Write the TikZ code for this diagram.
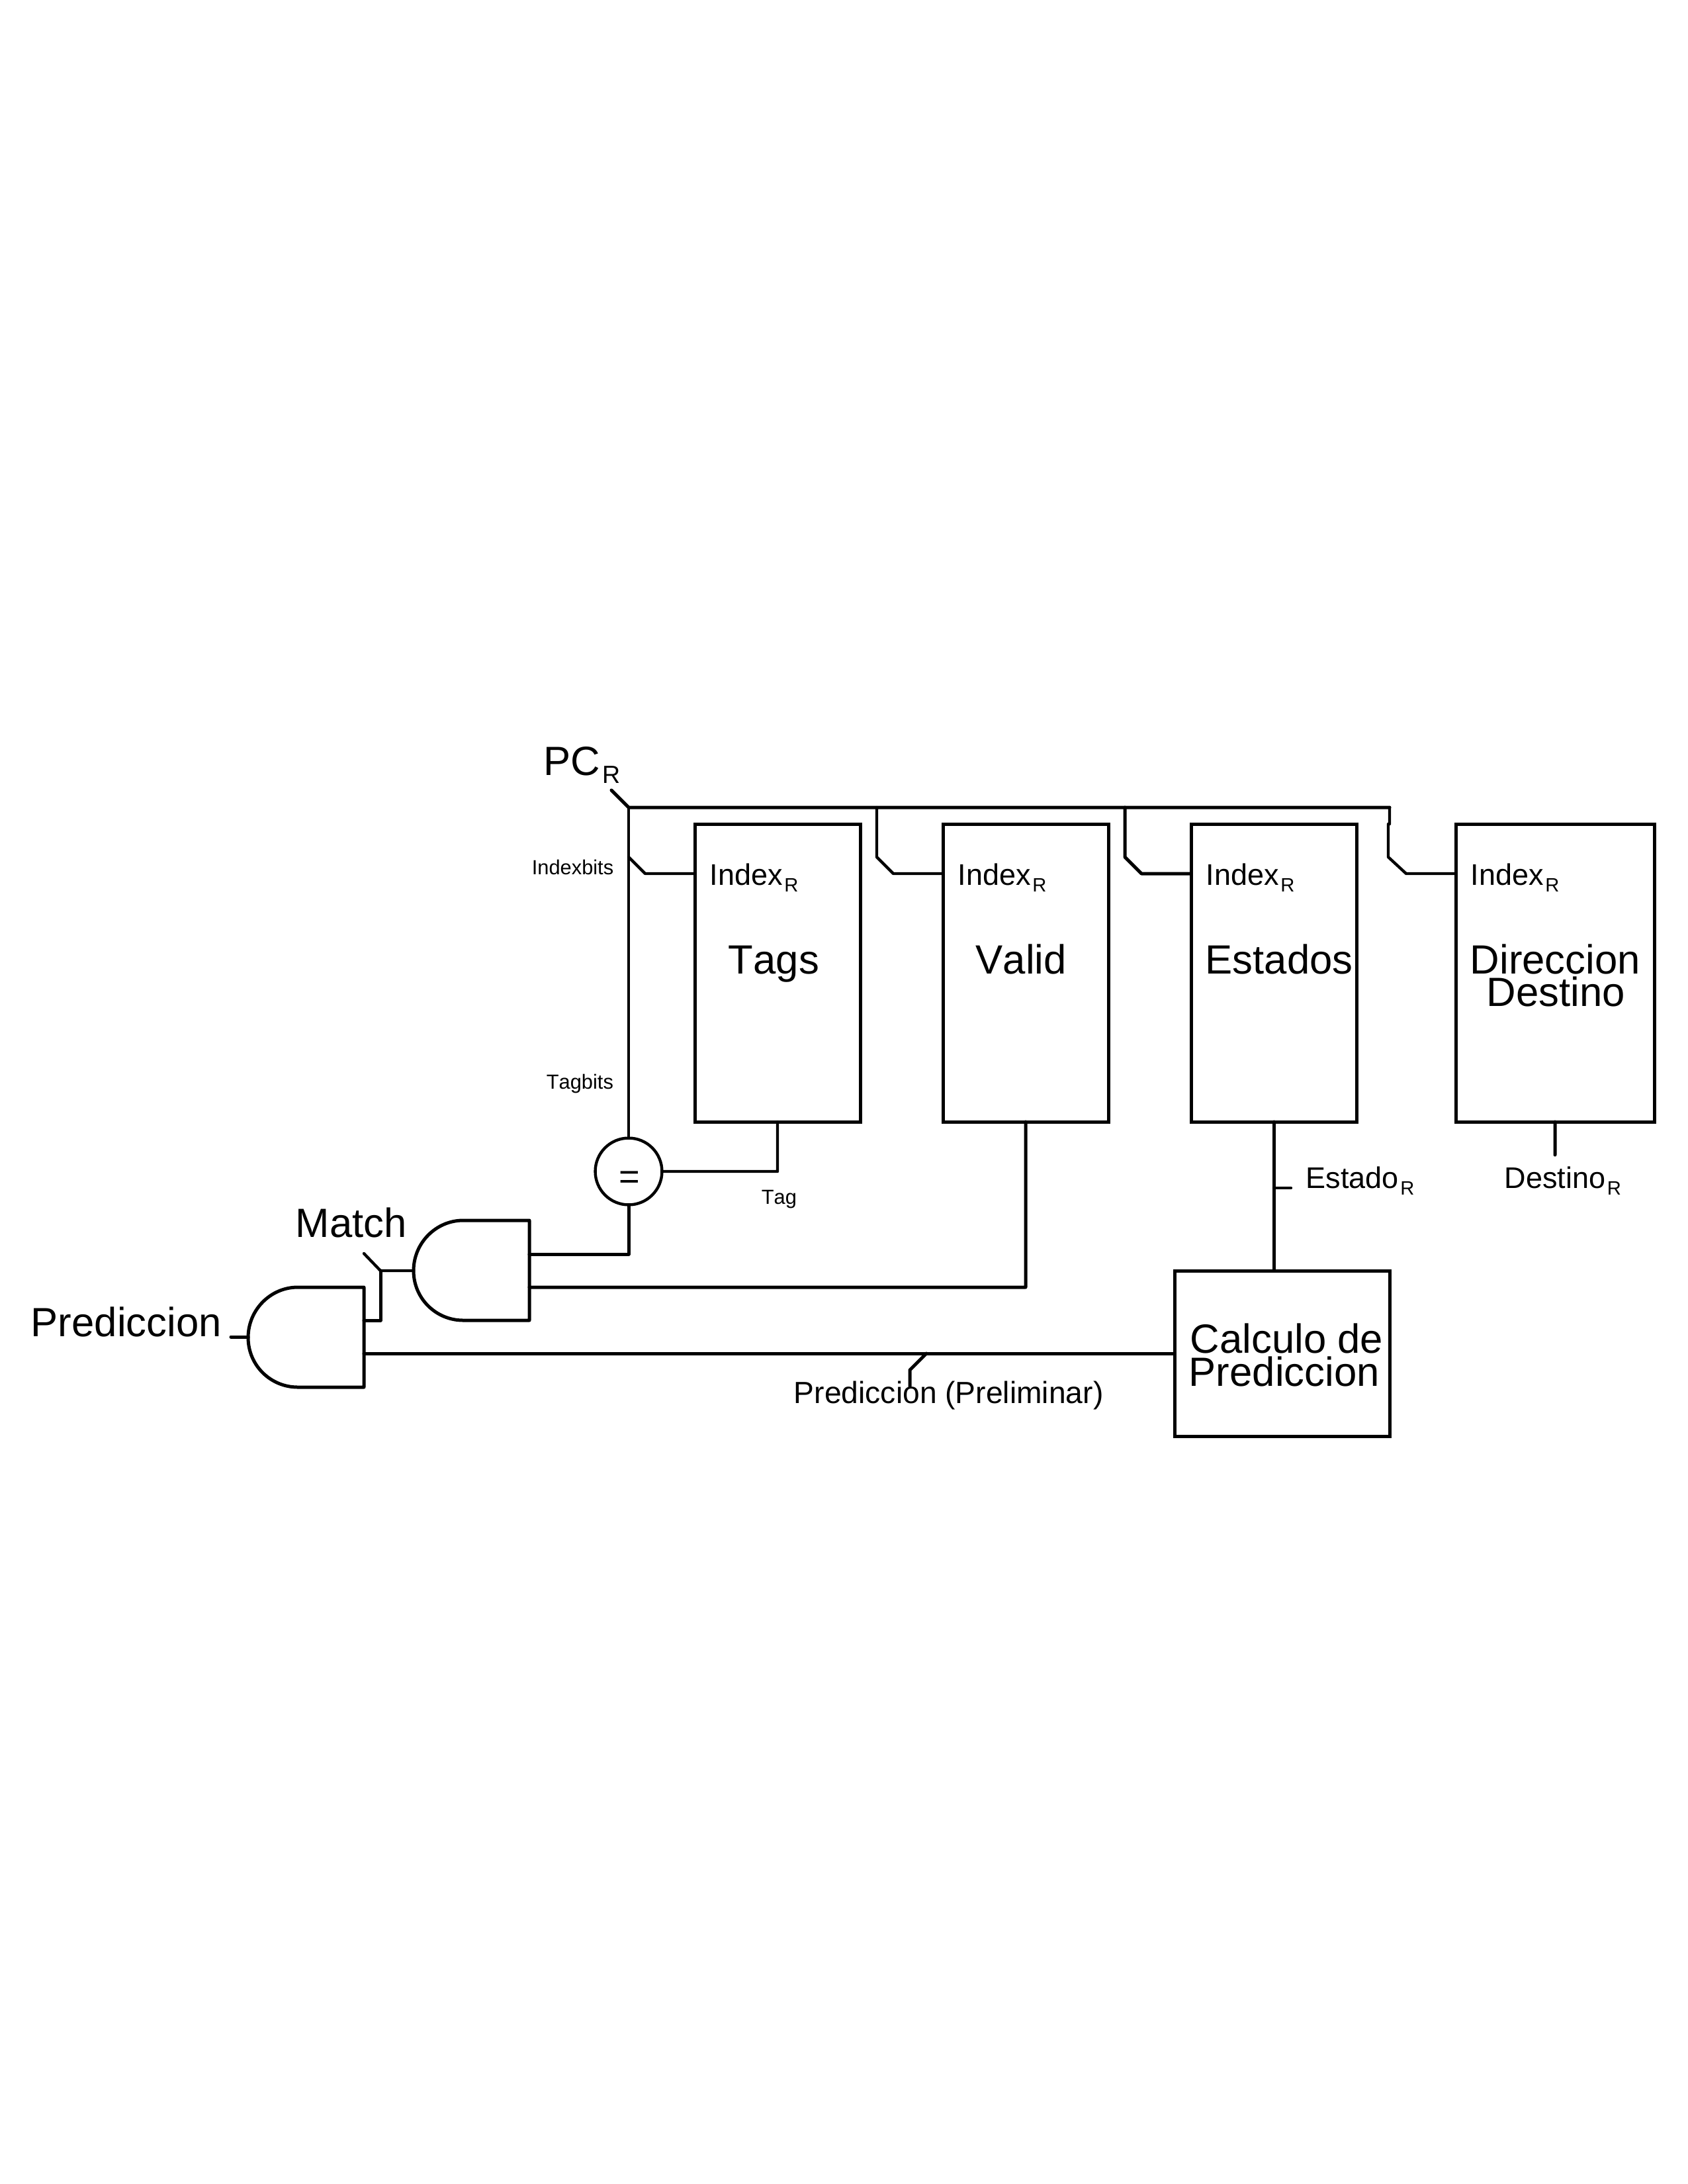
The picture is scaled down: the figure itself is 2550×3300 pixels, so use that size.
\documentclass[tikz,border=0pt]{standalone}
\usepackage{fontspec}
\setmainfont[Kerning=Off]{Liberation Sans}
\newcommand{\bigtxt}{\fontsize{14.8}{12}\selectfont}
\newcommand{\midtxt}{\fontsize{10.8}{12}\selectfont}
\newcommand{\smalltxt}{\fontsize{7.4}{9}\selectfont}
\newcommand{\lowR}[2]{\kern0.6pt\raisebox{-#1}{\fontsize{#2}{#2}\selectfont R}}
\newcommand{\idxR}{Index\lowR{2.4pt}{7}}
\tikzset{
  wire/.style={line width=1.05pt,line cap=round,line join=round},
  thickwire/.style={line width=1.2pt,line cap=round,line join=round},
  membox/.style={draw,line width=1.2pt,inner sep=0pt,outer sep=0pt,minimum width=60pt,minimum height=108pt,anchor=north west},
  lbl/.style={anchor=base west,inner sep=0pt},
  gatepath/.style={line width=1.2pt,line join=round}
}
\newcommand{\andgate}[3]{
  \draw[gatepath,shift={(#2,#3)}] (75,0) .. controls (34,0) and (0,34) .. (0,76) .. controls (0,118) and (34,151) .. (75,151) -- (175,151) -- (175,0) -- cycle;
  \coordinate (#1) at (#2,#3);
}
\begin{document}
\begin{tikzpicture}[x=0.24pt,y=-0.24pt]
  \useasboundingbox (0,0) rectangle (2550,3300);
  % memories
  \node[membox] (tags) at (1050,1245) {};
  \node[membox] (valid) at (1425,1245) {};
  \node[membox] (estados) at (1800,1245) {};
  \node[membox,minimum width=72pt] (destino) at (2200,1245) {};
  \node[membox,minimum width=78pt,minimum height=60pt] (calculo) at (1775,1920) {};
  \node[draw,circle,wire,outer sep=0pt,minimum size=24.2pt,inner sep=0pt] (igual) at (950,1770) {};
  \andgate{gatea}{625}{1844}
  \andgate{gateb}{375}{1945}
  % bus
  \coordinate (pc) at (950,1220);
  \coordinate (pctick) at (924,1194);
  \coordinate (busend) at (2100,1220);
  \draw[thickwire] (pctick) -- (pc) -- (busend);
  \draw[wire] (pc) -- (igual.north);
  \coordinate (taga) at (950,1295);
  \coordinate (tagb) at (975,1320);
  \draw[wire] (taga) -- (tagb) -- (tagb -| tags.west);
  \coordinate (vala) at (1325,1220);
  \coordinate (valb) at (1325,1295);
  \coordinate (valc) at (1350,1320);
  \draw[wire] (vala) -- (valb) -- (valc) -- (valc -| valid.west);
  \coordinate (esta) at (1700,1220);
  \coordinate (estb) at (1700,1295);
  \coordinate (estc) at (1725,1320);
  \draw[thickwire] (esta) -- (estb) -- (estc) -- (estc -| estados.west);
  \coordinate (desa) at (2098,1245);
  \coordinate (desb) at (2098,1295);
  \coordinate (desc) at (2125,1320);
  \draw[wire] (busend) -- (2100,1245) -- (desa) -- (desb) -- (desc) -- (desc -| destino.west);
  % outputs
  \coordinate (tagc) at (1175,1770);
  \draw[wire] (tags.south) -- (tagc) -- (igual.east);
  \coordinate (matcha) at (950,1895);
  \draw[thickwire] (igual.south) -- (matcha) -- (800,1895);
  \coordinate (validc) at (1550,1945);
  \draw[thickwire] (valid.south) -- (validc) -- (800,1945);
  \coordinate (matchb) at (575,1920);
  \coordinate (matchtick) at (550,1894);
  \draw[wire] (matchtick) -- (matchb) -- (625,1920);
  \draw[thickwire] (matchb) -- (575,1995) -- (550,1995);
  \coordinate (predl) at (550,2045);
  \coordinate (predtick) at (1400,2045);
  \coordinate (predtickb) at (1375,2070);
  \draw[thickwire] (predl) -- (predtick) -- (predtick -| calculo.west);
  \draw[thickwire] (predtick) -- (predtickb) -- (1375,2095);
  \coordinate (predout) at (349,2020);
  \draw[thickwire] (predout) -- (375,2020);
  \draw[thickwire] (estados.south) -- (calculo.north -| estados.south);
  \coordinate (estick) at (1951,1795);
  \draw[wire] (estick) -- (estick -| estados.south);
  \coordinate (desout) at (2350,1745);
  \draw[thickwire] (destino.south) -- (desout);
  % labels
  \node[lbl] (pclbl) at (821,1171) {\bigtxt PC\lowR{3pt}{9}};
  \node[lbl] (ixbits) at (803,1321) {\smalltxt Indexbits};
  \node[lbl] (tgbits) at (825,1645) {\smalltxt Tagbits};
  \node[lbl] (ixa) at (1072,1337) {\midtxt\idxR};
  \node[lbl] (ixb) at (1447,1337) {\midtxt\idxR};
  \node[lbl] (ixc) at (1822,1337) {\midtxt\idxR};
  \node[lbl] (ixd) at (2222,1337) {\midtxt\idxR};
  \node[lbl] (tagslbl) at (1100,1471) {\bigtxt Tags};
  \node[lbl] (validlbl) at (1474,1471) {\bigtxt Valid};
  \node[lbl] (estlbl) at (1821,1471) {\bigtxt Estados};
  \node[lbl] (dirlbl) at (2221,1471) {\bigtxt Direccion};
  \node[lbl] (dstlbl) at (2246,1520) {\bigtxt Destino};
  \node[lbl] (callbl) at (1798,2044) {\bigtxt Calculo de};
  \node[lbl] (prelbl) at (1796,2094) {\bigtxt Prediccion};
  \node[lbl] (estr) at (1973,1795) {\midtxt Estado\lowR{2.4pt}{7}};
  \node[lbl] (desr) at (2273,1795) {\midtxt Destino\lowR{2.4pt}{7}};
  \node[lbl] (taglbl) at (1150,1819) {\smalltxt Tag};
  \node[lbl] (predlbl) at (46,2019) {\bigtxt Prediccion};
  \node[lbl] (matchlbl) at (446,1869) {\bigtxt Match};
  \node[lbl] (prelim) at (1199,2120) {\fontsize{11.1}{12}\selectfont Prediccion (Preliminar)};
  \node[lbl,anchor=base] (eqlbl) at (951,1796) {\fontsize{13}{13}\selectfont =};
\end{tikzpicture}
\end{document}
